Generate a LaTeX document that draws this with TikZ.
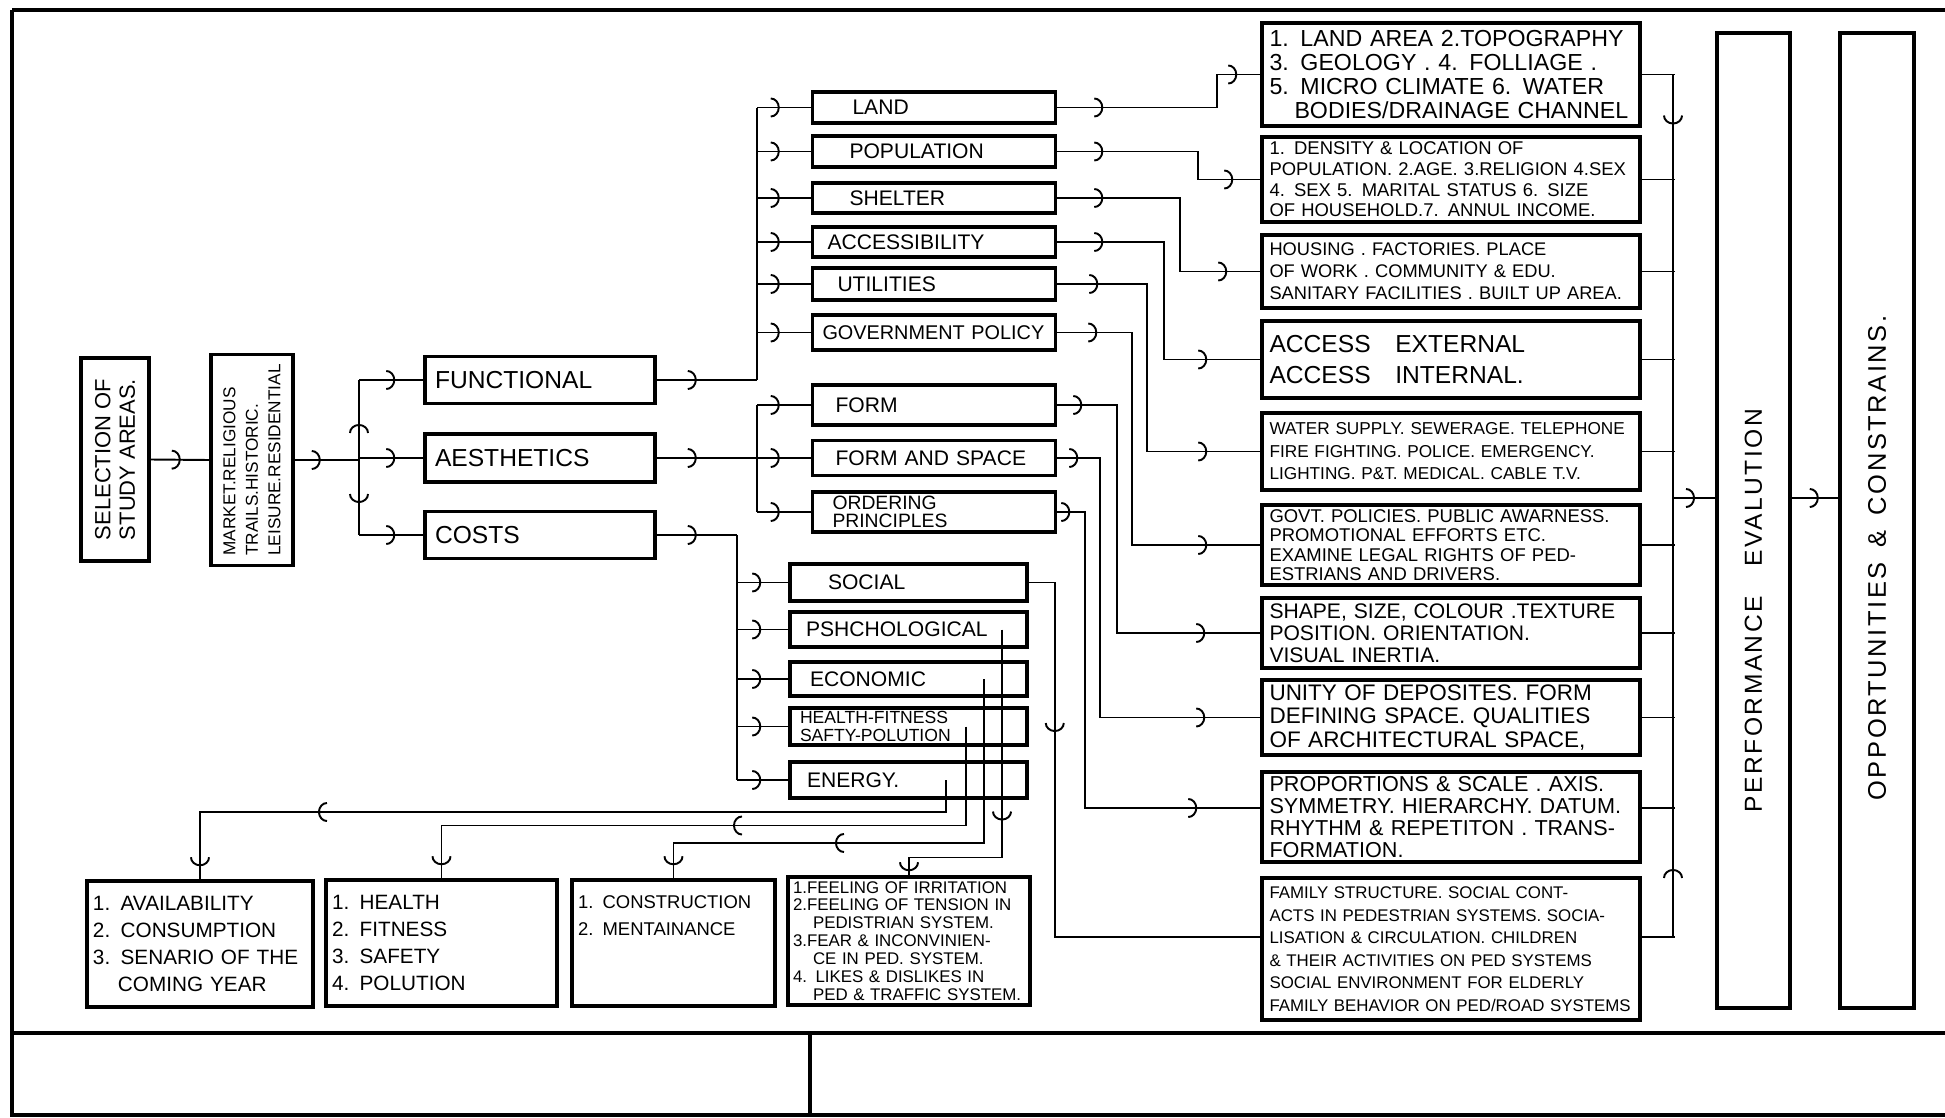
\documentclass[tikz,border=0pt]{standalone}
\usepackage{fontspec}
\setmainfont{Liberation Sans}
\newfontfamily\spaced[LetterSpace=10]{Liberation Sans}
\usetikzlibrary{arrows.meta,decorations.markings}
\newcommand{\sz}[2]{\fontsize{#1}{#2}\selectfont}
\tikzset{handtip/.tip={Arc Barb[length=1.8mm,width=4mm]}}

\begin{document}
\begin{tikzpicture}[
  x=0.2mm,y=-0.2mm,
  cell/.style={draw,line width=2pt,inner xsep=2mm,inner ysep=0.4mm,align=left},
  lcell/.style={cell,text width=42mm,minimum height=9.4mm,font=\sz{14}{15}},
  mcell/.style={cell,text width=44.6mm,font=\sz{12}{12}},
  scell/.style={cell,text width=43.4mm,font=\sz{12}{12}},
  rcell/.style={cell,inner xsep=1.5mm,text width=72.6mm},
  bcell/.style={cell,inner xsep=1.2mm,minimum height=25.2mm},
  vcell/.style={cell,rotate=90},
  conn/.style={line width=1.1pt},
  sheetline/.style={line width=2.4pt},
  barbat/.style={postaction={decorate},decoration={markings,
    mark=at position #1 with {\arrow{handtip}}}},
  barbs/.style 2 args={postaction={decorate},decoration={markings,
    mark=at position #1 with {\arrow{handtip}},
    mark=at position #2 with {\arrow{handtip}}}}
]
\useasboundingbox (0,0) rectangle (1945,1117);

% sheet frame
\draw[sheetline] (12,10) -- (1945,10);
\draw[sheetline] (12,10) -- (12,1117);
\draw[sheetline] (12,1033) -- (1945,1033);
\draw[sheetline] (12,1115) -- (1945,1115);
\draw[sheetline] (810,1033) -- (810,1117);

% study areas
\node[vcell,minimum width=40.6mm,minimum height=13.6mm,font=\sz{12.5}{14}] (sel) at (115,459.5)
  {SELECTION OF\\STUDY AREAS.};
\node[vcell,minimum width=40.2mm,minimum height=16.4mm,font=\sz{9.8}{12.8}] (mkt) at (252,460)
  {MARKET.RELIGIOUS\\TRAILS.HISTORIC.\\LEISURE.RESIDENTIAL};

% aspects
\node[lcell] (func) at (540,380) {FUNCTIONAL};
\node[lcell,minimum height=9.6mm] (aes) at (540,458) {AESTHETICS};
\node[lcell] (costs) at (540,535) {COSTS};

% functional
\node[mcell,minimum height=6.2mm] (land) at (934,107.5) {\hspace*{6mm}LAND};
\node[mcell,minimum height=6.2mm] (pop) at (934,151.5) {\hspace*{5.4mm}POPULATION};
\node[mcell,minimum height=6mm] (shel) at (934,198) {\hspace*{5.4mm}SHELTER};
\node[mcell,minimum height=6mm] (acc) at (934,242) {\hspace*{1mm}ACCESSIBILITY};
\node[mcell,minimum height=6.4mm] (util) at (934,284) {\hspace*{3mm}UTILITIES};
\node[mcell,minimum height=7mm,font=\sz{11.3}{12}] (gov) at (934,332.5) {GOVERNMENT POLICY};

% aesthetics
\node[mcell,minimum height=8mm] (form) at (934,405) {\hspace*{2.6mm}FORM};
\node[mcell,minimum height=7mm] (fas) at (934,458) {\hspace*{2.6mm}FORM AND SPACE};
\node[mcell,minimum height=8mm,font=\sz{11}{10.5}] (ord) at (934,512)
  {\hspace*{2mm}ORDERING\\\hspace*{2mm}PRINCIPLES};

% costs
\node[scell,minimum height=7.4mm] (soc) at (908.5,582.5) {\hspace*{5.6mm}SOCIAL};
\node[scell,minimum height=7mm] (psh) at (908.5,629.5) {\hspace*{1.2mm}PSHCHOLOGICAL};
\node[scell,minimum height=6.8mm] (eco) at (908.5,679) {\hspace*{2mm}ECONOMIC};
\node[scell,minimum height=7.4mm,font=\sz{10}{9.8}] (hea) at (908.5,726.5)
  {HEALTH-FITNESS\\SAFTY-POLUTION};
\node[scell,minimum height=7.2mm] (ene) at (908.5,780) {\hspace*{1.4mm}ENERGY.};

% details
\node[rcell,minimum height=20.6mm,font=\sz{13.2}{13.8}] (r1) at (1451,74.5)
  {1. LAND AREA 2.TOPOGRAPHY\\3. GEOLOGY . 4. FOLLIAGE .\\5. MICRO CLIMATE 6. WATER\\
   \hspace*{5mm}BODIES/DRAINAGE CHANNEL};
\node[rcell,minimum height=17mm,font=\sz{10.5}{11.8}] (r2) at (1451,179.5)
  {1. DENSITY \& LOCATION OF\\POPULATION. 2.AGE. 3.RELIGION 4.SEX\\
   4. SEX 5. MARITAL STATUS 6. SIZE\\OF HOUSEHOLD.7. ANNUL INCOME.};
\node[rcell,minimum height=14.6mm,font=\sz{10.4}{12.5}] (r3) at (1451,271.5)
  {HOUSING . FACTORIES. PLACE\\OF WORK . COMMUNITY \& EDU.\\SANITARY FACILITIES . BUILT UP AREA.};
\node[rcell,minimum height=15.4mm,font=\sz{14}{18}] (r4) at (1451,359.5)
  {ACCESS\quad EXTERNAL\\ACCESS\quad INTERNAL.};
\node[rcell,minimum height=15.4mm,font=\sz{9.8}{12.8}] (r5) at (1451,451.5)
  {WATER SUPPLY. SEWERAGE. TELEPHONE\\FIRE FIGHTING. POLICE. EMERGENCY.\\
   LIGHTING. P\&T. MEDICAL. CABLE T.V.};
\node[rcell,minimum height=16mm,font=\sz{10.5}{11}] (r6) at (1451,545)
  {GOVT. POLICIES. PUBLIC AWARNESS.\\PROMOTIONAL EFFORTS ETC.\\
   EXAMINE LEGAL RIGHTS OF PED-\\ESTRIANS AND DRIVERS.};
\node[rcell,minimum height=14mm,font=\sz{12}{12.4}] (r7) at (1451,633)
  {SHAPE, SIZE, COLOUR .TEXTURE\\POSITION. ORIENTATION.\\VISUAL INERTIA.};
\node[rcell,minimum height=15mm,font=\sz{12.8}{13.4}] (r8) at (1451,717.5)
  {UNITY OF DEPOSITES. FORM\\DEFINING SPACE. QUALITIES\\OF ARCHITECTURAL SPACE,};
\node[rcell,minimum height=18mm,font=\sz{12.3}{12.4}] (r9) at (1451,817)
  {PROPORTIONS \& SCALE . AXIS.\\SYMMETRY. HIERARCHY. DATUM.\\
   RHYTHM \& REPETITON . TRANS-\\FORMATION.};
\node[rcell,minimum height=28.4mm,font=\sz{9.6}{12.8}] (r10) at (1451,949)
  {FAMILY STRUCTURE. SOCIAL CONT-\\ACTS IN PEDESTRIAN SYSTEMS. SOCIA-\\
   LISATION \& CIRCULATION. CHILDREN\\\& THEIR ACTIVITIES ON PED SYSTEMS\\
   SOCIAL ENVIRONMENT FOR ELDERLY\\FAMILY BEHAVIOR ON PED/ROAD SYSTEMS};

% cost outcomes
\node[bcell,text width=42.8mm,font=\sz{11.8}{15.5}] (b1) at (200,944)
  {1. AVAILABILITY\\2. CONSUMPTION\\3. SENARIO OF THE\\\hspace*{5mm}COMING YEAR};
\node[bcell,text width=43.8mm,font=\sz{11.8}{15.5}] (b2) at (441.5,943)
  {1. HEALTH\\2. FITNESS\\3. SAFETY\\4. POLUTION};
\node[bcell,text width=38.2mm,font=\sz{10.5}{15.5}] (b3) at (673.5,943)
  {1. CONSTRUCTION\\2. MENTAINANCE\\\mbox{}\\\mbox{}};
\node[bcell,inner xsep=1mm,inner ysep=0.3mm,text width=46.4mm,minimum height=25.6mm,
  font=\sz{9.6}{10.2}] (b4) at (909,941)
  {1.FEELING OF IRRITATION\\2.FEELING OF TENSION IN\\\hspace*{4mm}PEDISTRIAN SYSTEM.\\
   3.FEAR \& INCONVINIEN-\\\hspace*{4mm}CE IN PED. SYSTEM.\\4. LIKES \& DISLIKES IN\\
   \hspace*{4mm}PED \& TRAFFIC SYSTEM.};

% evaluation
\node[vcell,align=center,minimum width=195mm,minimum height=14.6mm,font=\spaced\sz{14}{16}]
  (perf) at (1753.5,520.5) {PERFORMANCE\hspace{6mm}EVALUTION\hspace*{36mm}};
\node[vcell,align=center,minimum width=195mm,minimum height=14.8mm,font=\spaced\sz{14.5}{16}]
  (opp) at (1877,520.5) {OPPORTUNITIES\hspace{3mm}\&\hspace{3mm}CONSTRAINS.\hspace*{15mm}};

% study areas to aspects
\coordinate (lbus) at (359,460);
\draw[conn,barbat=6mm] (sel.south) -- (mkt.north);
\draw[conn,barbat=5.2mm] (mkt.south) -- (lbus);
\draw[conn,barbat=7.2mm] (lbus) -- (lbus |- func.west);
\draw[conn,barbat=8.6mm] (lbus) -- (lbus |- costs.west);
\foreach \n in {func,aes,costs}
  \draw[conn,barbat=-5.6mm] (lbus |- \n.west) -- (\n.west);

% aspects to factors
\coordinate (fbus) at (757,380);
\draw[conn,barbat=8mm] (func.east) -- (fbus);
\draw[conn] (fbus) -- (fbus |- land.west);
\foreach \n in {land,pop,shel,acc,util,gov}
  \draw[conn,barbat=-6.2mm] (fbus |- \n.west) -- (\n.west);

\coordinate (abus) at (757,458);
\draw[conn,barbat=8mm] (aes.east) -- (abus);
\draw[conn] (abus |- form.west) -- (abus |- ord.west);
\foreach \n in {form,fas,ord}
  \draw[conn,barbat=-6.2mm] (abus |- \n.west) -- (\n.west);

\coordinate (cbus) at (737,535);
\draw[conn,barbat=8mm] (costs.east) -- (cbus);
\draw[conn] (cbus) -- (cbus |- ene.west);
\foreach \n in {soc,psh,eco,hea,ene}
  \draw[conn,barbat=-5.4mm] (cbus |- \n.west) -- (\n.west);

% factors to details
\draw[conn,barbs={9.2mm}{-4.6mm}] (land.east) -- ++(160,0) |- (r1.west);
\draw[conn,barbs={9.2mm}{-5.4mm}] (pop.east) -- ++(141,0) |- (r2.west);
\draw[conn,barbs={9.2mm}{-6.6mm}] (shel.east) -- ++(123,0) |- (r3.west);
\draw[conn,barbs={9.2mm}{-10.6mm}] (acc.east) -- ++(107,0) |- (r4.west);
\draw[conn,barbs={8.2mm}{-10.6mm}] (util.east) -- ++(90,0) |- (r5.west);
\draw[conn,barbs={8mm}{-10.6mm}] (gov.east) -- ++(75,0) |- (r6.west);
\draw[conn,barbs={5mm}{-11mm}] (form.east) -- ++(60,0) |- (r7.west);
\draw[conn,barbs={4.2mm}{-11mm}] (fas.east) -- ++(43,0) |- (r8.west);
\draw[conn,barbs={2.6mm}{-12.6mm}] (ord.east) -- ++(28,0) |- ([yshift=1.8mm]r9.west);
\draw[conn,barbat=35.1mm] (soc.east) -- ++(26,0) |- ([yshift=2.4mm]r10.west);

% costs to outcomes
\draw[conn,barbs={132mm}{-2.6mm}] ([xshift=7.5mm]ene.center) -- ++(0,32) -| (b1.north);
\draw[conn,barbs={66.4mm}{-2.6mm}] ([xshift=11.5mm]hea.center) -- ++(0,99) -| (b2.north);
\draw[conn,barbs={62.6mm}{-2.6mm}] ([xshift=15.1mm]eco.center) -- ++(0,164) -| (b3.north);
\draw[conn,barbs={38.2mm}{-0.8mm}] ([xshift=18.7mm]psh.center) -- ++(0,228) -| (b4.north);

% details to evaluation
\coordinate (rbus) at (1673,498);
\coordinate (rbot) at (1673,937);
\foreach \n/\s in {r1/0,r2/0,r3/0,r4/0,r5/0,r6/0,r7/0,r8/0,r9/1.8,r10/2.4}
  \draw[conn] ([yshift=\s mm]\n.east) -- ++(33,0);
\draw[conn,barbat=10mm] (rbus |- r1.east) -- (rbus);
\draw[conn,barbat=13.6mm] (rbot) -- (rbus);
\draw[conn,barbat=4.4mm] (rbus) -- (rbus -| perf.north);
\draw[conn,barbat=5.4mm] (rbus -| perf.south) -- (rbus -| opp.north);
\end{tikzpicture}
\end{document}
